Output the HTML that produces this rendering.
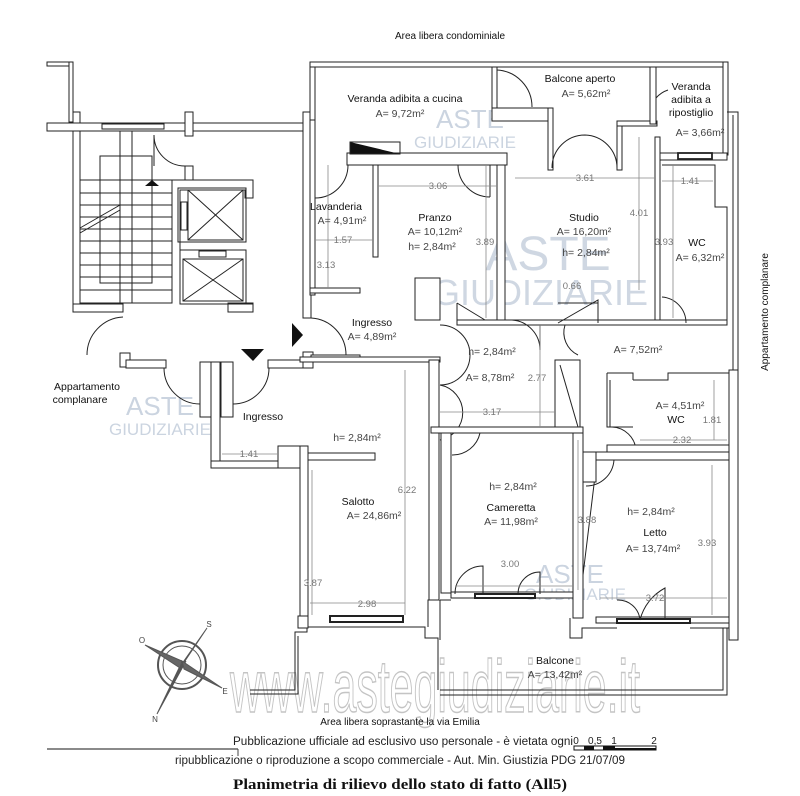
<!DOCTYPE html>
<html><head><meta charset="utf-8"><style>
body{margin:0;background:#fff}
svg{display:block}
text{font-family:"Liberation Sans",sans-serif}
.l{font-size:10.5px;fill:#111}
.a{font-size:10.5px;fill:#444}
.d{font-size:9.5px;fill:#777}
.w{fill:#fff;stroke:#222;stroke-width:1}
.dim{stroke:#888;stroke-width:0.8;fill:none}
.thin{stroke:#222;stroke-width:1;fill:none}
.wm{font-size:44px;fill:#a9b8cc;opacity:.55}
.wm2{font-size:22px;fill:#a9b8cc;opacity:.6}
</style></head><body>
<svg width="800" height="796" viewBox="0 0 800 796" xmlns="http://www.w3.org/2000/svg">
<rect width="800" height="796" fill="#fff"/>
<text x="450" y="39" text-anchor="middle" class="l" style="font-size:10px">Area libera condominiale</text>

<!-- big watermark (behind) -->
<text x="435" y="712" text-anchor="middle" style="font-size:74px;fill:#fff;stroke:#c4c4c4;stroke-width:1.5" textLength="410" lengthAdjust="spacingAndGlyphs">www.astegiudiziarie.it</text>

<!-- watermarks -->
<g>
<text x="548" y="270" text-anchor="middle" class="wm" style="font-size:48px">ASTE</text>
<text x="540" y="305" text-anchor="middle" class="wm" style="font-size:36px">GIUDIZIARIE</text>
<text x="470" y="128" text-anchor="middle" class="wm2" style="font-size:26px">ASTE</text>
<text x="465" y="148" text-anchor="middle" class="wm2" style="font-size:17px">GIUDIZIARIE</text>
<text x="160" y="415" text-anchor="middle" class="wm2" style="font-size:26px">ASTE</text>
<text x="160" y="435" text-anchor="middle" class="wm2" style="font-size:17px">GIUDIZIARIE</text>
<text x="570" y="583" text-anchor="middle" class="wm2" style="font-size:26px">ASTE</text>
<text x="575" y="600" text-anchor="middle" class="wm2" style="font-size:17px">GIUDIZIARIE</text>
</g>

<!-- stair block -->
<rect class="w" x="47" y="62" width="25" height="4"/>
<rect class="w" x="69" y="62" width="4" height="60"/>
<rect class="w" x="47" y="123" width="258" height="8"/>
<rect class="w" x="73" y="112" width="7" height="11"/>
<rect class="w" x="185" y="112" width="8" height="24"/>
<rect class="w" x="102" y="124" width="62" height="5"/>
<rect class="w" x="73" y="131" width="7" height="181"/>
<rect class="w" x="303" y="112" width="8" height="206"/>
<rect class="w" x="310" y="62" width="5" height="60"/>
<path class="thin" d="M154 135 A31 31 0 0 0 185 166"/>
<line class="thin" x1="154" y1="135" x2="154" y2="166"/>
<rect class="w" x="185" y="166" width="8" height="14"/>
<path class="thin" d="M172 180 H253 V198 H245 V190 H180 V303"/>
<path class="thin" d="M228 312 V303 H253 V310"/>
<g class="thin">
<rect x="80" y="180" width="92" height="123"/>
<line x1="120" y1="131" x2="120" y2="303"/><line x1="132" y1="131" x2="132" y2="303"/>
<rect x="100" y="156" width="52" height="127"/>
<line x1="80" y1="193" x2="172" y2="193"/><line x1="80" y1="205" x2="172" y2="205"/>
<line x1="80" y1="217" x2="172" y2="217"/><line x1="80" y1="229" x2="172" y2="229"/>
<line x1="80" y1="241" x2="172" y2="241"/><line x1="80" y1="253" x2="172" y2="253"/>
<line x1="80" y1="265" x2="172" y2="265"/><line x1="80" y1="277" x2="172" y2="277"/>
<line x1="80" y1="290" x2="172" y2="290"/>
<line x1="80" y1="228" x2="120" y2="205"/><line x1="80" y1="233" x2="120" y2="210"/>
</g>
<polygon points="145,186 159,186 152,180" fill="#111"/>
<g class="thin">
<rect x="178" y="188" width="68" height="54"/><rect x="188" y="190" width="55" height="50"/>
<line x1="188" y1="190" x2="243" y2="240"/><line x1="243" y1="190" x2="188" y2="240"/>
<rect x="181" y="202" width="6" height="28"/>
<rect x="180" y="250" width="66" height="54"/><rect x="183" y="259" width="60" height="42"/>
<line x1="183" y1="259" x2="243" y2="301"/><line x1="243" y1="259" x2="183" y2="301"/>
<rect x="199" y="251" width="27" height="6"/>
</g>
<rect class="w" x="73" y="304" width="50" height="8"/>
<rect class="w" x="228" y="304" width="25" height="8"/>
<path class="thin" d="M87 355 A38 38 0 0 1 123 317"/>
<rect class="w" x="120" y="353" width="10" height="14"/>
<rect class="w" x="126" y="360" width="40" height="8"/>
<path class="thin" d="M164 368 A36 36 0 0 0 200 404"/>
<path class="thin" d="M233 404 A36 36 0 0 0 269 368"/>
<rect class="w" x="200" y="362" width="12" height="55"/>
<rect class="w" x="221" y="362" width="12" height="55"/>
<rect class="w" x="268" y="360" width="42" height="8"/>
<rect class="w" x="303" y="352" width="10" height="16"/>
<polygon points="292,323 303,335 292,347" fill="#111"/>
<polygon points="241,349 264,349 253,361" fill="#111"/>
<path class="thin" d="M311 318 A37 37 0 0 1 346 355"/>
<rect class="w" x="311" y="355" width="49" height="6"/>

<!-- top verandas -->
<rect class="w" x="310" y="62" width="417" height="5"/>
<rect class="w" x="723" y="62" width="5" height="93"/>
<path class="thin" d="M727 112 H738 V640"/>
<path class="thin" d="M733 115 V640"/>
<rect class="w" x="310" y="120" width="5" height="175"/>
<rect class="w" x="492" y="67" width="5" height="45"/>
<path class="thin" d="M497 70 A37 37 0 0 1 532 107"/>
<rect class="w" x="492" y="108" width="58" height="13"/>
<rect class="w" x="548" y="108" width="5" height="62"/>
<path class="thin" d="M552 168 A33 33 0 0 1 585 135 M617 168 A33 33 0 0 0 585 135"/>
<rect class="w" x="617" y="121" width="5" height="49"/>
<rect class="w" x="617" y="121" width="40" height="5"/>
<rect class="w" x="650" y="67" width="6" height="57"/>
<path class="thin" d="M656 98 A27 27 0 0 1 668 90"/>
<rect class="w" x="656" y="153" width="71" height="7"/>
<rect class="w" x="678" y="153" width="34" height="6" style="stroke-width:1.8"/>
<rect class="w" x="347" y="153" width="160" height="12"/>
<polygon points="350,142 350,154 400,154" fill="#111"/>
<rect x="350" y="142" width="50" height="12" fill="none" stroke="#222"/>
<rect class="w" x="373" y="165" width="5" height="92"/>
<path class="thin" d="M315 198 A33 33 0 0 0 348 165"/>
<path class="thin" d="M458 165 A32 32 0 0 0 490 197"/>
<line class="thin" x1="490" y1="165" x2="490" y2="197"/>
<rect class="w" x="310" y="288" width="50" height="5"/>
<rect class="w" x="497" y="165" width="8" height="158"/>
<rect class="w" x="655" y="137" width="5" height="186"/>
<path class="thin" d="M662 165 H715 V207 H727 V320"/>
<rect class="w" x="457" y="320" width="270" height="5"/>
<rect class="w" x="415" y="278" width="25" height="42"/>
<path class="thin" d="M457 303 L485 320 M457 303 V320 H485"/>
<path class="thin" d="M558 323 L598 300 V323 M558 303 H598"/>
<path class="thin" d="M662 297 A26 26 0 0 1 686 323"/>
<path class="thin" d="M512 320 A30 30 0 0 1 540 350"/>
<line class="thin" x1="540" y1="325" x2="540" y2="350"/>
<rect class="w" x="300" y="357" width="140" height="5"/>
<path class="thin" d="M440 325 A30 30 0 0 1 440 385"/>
<path class="thin" d="M440 385 A28 28 0 0 1 440 440"/>
<path class="thin" d="M565 325 A25 25 0 0 0 578 355"/>
<!-- lower apartment -->
<rect class="w" x="211" y="362" width="9" height="106"/>
<rect class="w" x="211" y="461" width="97" height="7"/>
<rect class="w" x="278" y="446" width="30" height="22"/>
<rect class="w" x="300" y="446" width="8" height="170"/>
<rect class="w" x="308" y="453" width="67" height="7"/>
<rect class="w" x="429" y="360" width="10" height="240"/>
<rect class="w" x="431" y="427" width="152" height="6"/>
<rect class="w" x="441" y="433" width="10" height="160"/>
<path class="thin" d="M452 455 A28 28 0 0 0 480 433"/>
<rect class="w" x="555" y="360" width="25" height="67"/>
<path class="thin" d="M560 365 L578 427"/>
<rect class="w" x="573" y="433" width="10" height="185"/>
<path class="thin" d="M583 465 V600 M596 468 L583 575"/>
<rect class="w" x="583" y="452" width="146" height="8"/>
<rect class="w" x="583" y="452" width="13" height="30"/>
<path class="thin" d="M586 486 A28 28 0 0 0 614 460"/>
<path class="thin" d="M607 373 H633 V380 M607 373 V427 H633 M633 380 H668 V373 H729"/>
<path class="thin" d="M610 380 V427 M612 427 A25 25 0 0 1 636 450"/>
<rect class="w" x="607" y="445" width="122" height="7"/>
<rect class="w" x="729" y="370" width="9" height="270"/>
<rect class="w" x="330" y="616" width="73" height="6" style="stroke-width:2"/>
<rect class="w" x="451" y="592" width="122" height="6"/>
<rect class="w" x="475" y="594" width="60" height="4" style="stroke-width:2"/>
<path class="thin" d="M455 594 A28 28 0 0 1 483 566 V594 M518 594 A22 22 0 0 1 540 572 V594"/>
<rect class="w" x="596" y="617" width="133" height="6"/>
<rect class="w" x="617" y="619" width="73" height="4" style="stroke-width:2"/>
<path class="thin" d="M617 600 A22 22 0 0 1 640 620 M640 620 A50 50 0 0 1 665 588 V620"/>
<!-- balcony -->
<path class="thin" d="M250 690 H295 V632 H307 V627 H425 V638 H438 V690"/>
<path class="thin" d="M250 694 H298 V636 M428 627 V600 H438"/>
<rect class="w" x="298" y="616" width="10" height="12"/>
<path class="thin" d="M440 600 V640 M440 690 H723 V628 H700 M440 695 H727 V628"/>
<path class="thin" d="M440 600 H451 M570 618 V638 H582 V628 H617"/>
<path class="thin" d="M690 628 H729 V640 H738"/>

<g class="dim">
<line x1="378" y1="186" x2="497" y2="186"/>
<line x1="315" y1="240" x2="373" y2="240"/>
<line x1="328" y1="165" x2="328" y2="288"/>
<line x1="486" y1="165" x2="486" y2="318"/>
<line x1="515" y1="178" x2="655" y2="178"/>
<line x1="639" y1="137" x2="639" y2="290"/>
<line x1="662" y1="181" x2="713" y2="181"/>
<line x1="673" y1="165" x2="673" y2="318"/>
<line x1="540" y1="325" x2="540" y2="427"/>
<line x1="440" y1="412" x2="555" y2="412"/>
<line x1="222" y1="454" x2="277" y2="454"/>
<line x1="405" y1="370" x2="405" y2="615"/>
<line x1="312" y1="470" x2="312" y2="615"/>
<line x1="310" y1="603" x2="405" y2="603"/>
<line x1="578" y1="440" x2="578" y2="590"/>
<line x1="455" y1="586" x2="573" y2="586"/>
<line x1="712" y1="465" x2="712" y2="615"/>
<line x1="600" y1="598" x2="727" y2="598"/>
<line x1="640" y1="440" x2="727" y2="440"/>
<line x1="714" y1="380" x2="714" y2="440"/>
</g>

<g text-anchor="middle">
<text x="405" y="102" class="l">Veranda adibita a cucina</text>
<text x="400" y="117" class="a">A= 9,72m²</text>
<text x="580" y="82" class="l">Balcone aperto</text>
<text x="586" y="97" class="a">A= 5,62m²</text>
<text x="691" y="90" class="l">Veranda</text>
<text x="691" y="103" class="l">adibita a</text>
<text x="691" y="116" class="l">ripostiglio</text>
<text x="700" y="136" class="a">A= 3,66m²</text>
<text x="336" y="210" class="l">Lavanderia</text>
<text x="342" y="224" class="a">A= 4,91m²</text>
<text x="343" y="243" class="d">1.57</text>
<text x="326" y="268" class="d">3.13</text>
<text x="438" y="189" class="d">3.06</text>
<text x="435" y="221" class="l">Pranzo</text>
<text x="435" y="235" class="a">A= 10,12m²</text>
<text x="432" y="250" class="a">h= 2,84m²</text>
<text x="485" y="245" class="d">3.89</text>
<text x="584" y="221" class="l">Studio</text>
<text x="584" y="235" class="a">A= 16,20m²</text>
<text x="586" y="256" class="a">h= 2,84m²</text>
<text x="585" y="181" class="d">3.61</text>
<text x="639" y="216" class="d">4.01</text>
<text x="572" y="289" class="d">0.66</text>
<text x="690" y="184" class="d">1.41</text>
<text x="664" y="245" class="d">3.93</text>
<text x="697" y="246" class="l">WC</text>
<text x="700" y="261" class="a">A= 6,32m²</text>
<text x="372" y="326" class="l">Ingresso</text>
<text x="372" y="340" class="a">A= 4,89m²</text>
<text x="492" y="355" class="a">h= 2,84m²</text>
<text x="490" y="381" class="a">A= 8,78m²</text>
<text x="537" y="381" class="d">2.77</text>
<text x="492" y="415" class="d">3.17</text>
<text x="638" y="353" class="a">A= 7,52m²</text>
<text x="87" y="390" class="l">Appartamento</text>
<text x="80" y="403" class="l">complanare</text>
<text x="263" y="420" class="l">Ingresso</text>
<text x="357" y="441" class="a">h= 2,84m²</text>
<text x="249" y="457" class="d">1.41</text>
<text x="358" y="505" class="l">Salotto</text>
<text x="374" y="519" class="a">A= 24,86m²</text>
<text x="407" y="493" class="d">6.22</text>
<text x="313" y="586" class="d">3.87</text>
<text x="367" y="607" class="d">2.98</text>
<text x="513" y="490" class="a">h= 2,84m²</text>
<text x="511" y="511" class="l">Cameretta</text>
<text x="511" y="525" class="a">A= 11,98m²</text>
<text x="587" y="523" class="d">3.88</text>
<text x="510" y="567" class="d">3.00</text>
<text x="680" y="409" class="a">A= 4,51m²</text>
<text x="676" y="423" class="l">WC</text>
<text x="712" y="423" class="d">1.81</text>
<text x="682" y="443" class="d">2.32</text>
<text x="651" y="515" class="a">h= 2,84m²</text>
<text x="655" y="536" class="l">Letto</text>
<text x="653" y="552" class="a">A= 13,74m²</text>
<text x="707" y="546" class="d">3.93</text>
<text x="655" y="601" class="d">3.72</text>
<text x="555" y="664" class="l">Balcone</text>
<text x="555" y="678" class="a">A= 13,42m²</text>
</g>
<text transform="translate(768,312) rotate(-90)" text-anchor="middle" class="l" style="font-size:10px">Appartamento complanare</text>

<g stroke="#555" fill="none">
<circle cx="182" cy="665" r="24" stroke-width="2"/>
<circle cx="182" cy="665" r="19"/>
<polygon points="207,628 185,661 179,668" fill="#444"/>
<polygon points="157,714 179,668 186,661" fill="#555"/>
<polygon points="145,645 182,661 180,668" fill="#666"/>
<polygon points="222,688 184,669 182,661" fill="#666"/>
</g>
<g font-size="8" fill="#444" text-anchor="middle">
<text x="209" y="627">S</text><text x="155" y="722">N</text><text x="142" y="643">O</text><text x="225" y="694">E</text>
</g>

<text x="400" y="725" text-anchor="middle" class="l" style="font-size:10px">Area libera soprastante la via Emilia</text>
<text x="403" y="745" text-anchor="middle" style="font-size:11.5px;fill:#222" textLength="340" lengthAdjust="spacingAndGlyphs">Pubblicazione ufficiale ad esclusivo uso personale - è vietata ogni</text>
<text x="400" y="764" text-anchor="middle" style="font-size:11.5px;fill:#222" textLength="450" lengthAdjust="spacingAndGlyphs">ripubblicazione o riproduzione a scopo commerciale - Aut. Min. Giustizia PDG 21/07/09</text>
<line x1="47" y1="749" x2="238" y2="749" stroke="#444" stroke-width="1.2"/>
<line x1="238" y1="749" x2="238" y2="756" stroke="#444"/>
<g font-size="10" fill="#222" text-anchor="middle">
<text x="576" y="744">0</text><text x="595" y="744">0,5</text><text x="614" y="744">1</text><text x="654" y="744">2</text>
</g>
<rect x="574" y="746" width="82" height="4" fill="#fff" stroke="#111"/>
<rect x="584" y="746" width="10" height="4" fill="#111"/><rect x="603" y="746" width="12" height="4" fill="#111"/><rect x="615" y="748" width="41" height="2" fill="#111"/>
<text x="400" y="789" text-anchor="middle" style="font-family:'Liberation Serif',serif;font-size:15px;font-weight:bold;fill:#111" textLength="334" lengthAdjust="spacingAndGlyphs">Planimetria di rilievo dello stato di fatto (All5)</text>
</svg>
</body></html>
